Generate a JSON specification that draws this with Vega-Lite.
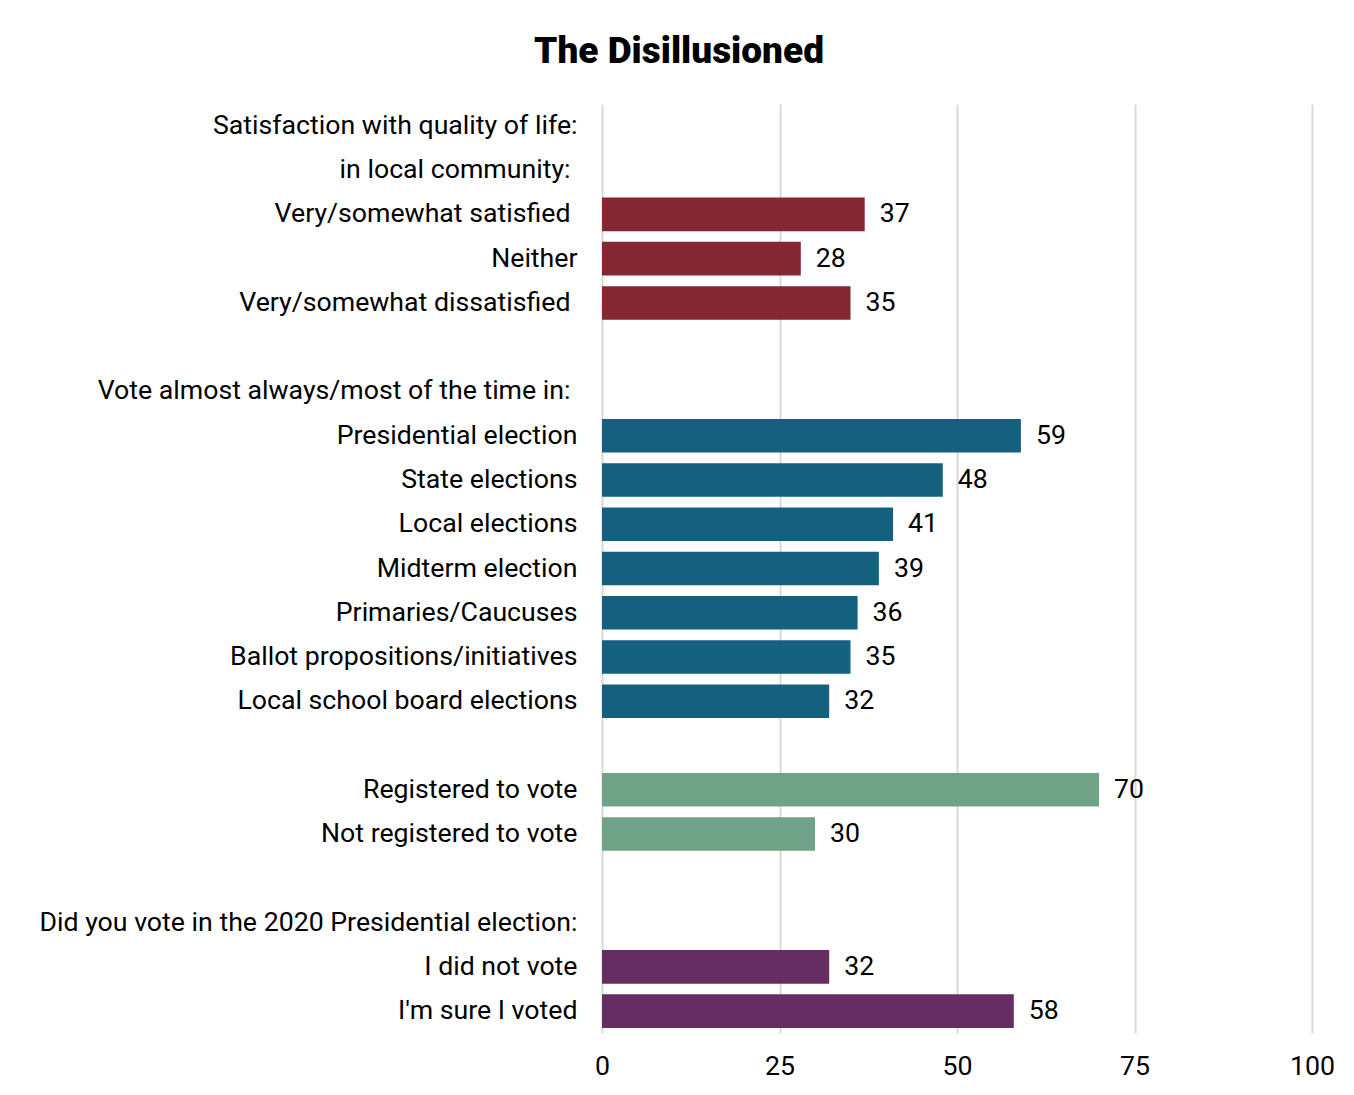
{
  "$schema": "https://vega.github.io/schema/vega-lite/v6.json",
  "width": 710,
  "height": 929,
  "autosize": {"type": "none"},
  "padding": {"left": 602, "top": 104, "right": 42, "bottom": 62},
  "background": "white",
  "title": {
    "text": "The Disillusioned",
    "font": "Roboto",
    "fontSize": 37,
    "fontWeight": 900,
    "color": "#000000",
    "anchor": "middle",
    "frame": "group",
    "dx": -278,
    "offset": 33
  },
  "data": {
    "values": [
      {"label": "Satisfaction with quality of life:", "value": null, "group": "life"},
      {"label": "in local community:", "value": null, "group": "life"},
      {"label": "Very/somewhat satisfied", "value": 37, "group": "life"},
      {"label": "Neither", "value": 28, "group": "life"},
      {"label": "Very/somewhat dissatisfied", "value": 35, "group": "life"},
      {"label": " ", "value": null, "group": "none"},
      {"label": "Vote almost always/most of the time in:", "value": null, "group": "vote"},
      {"label": "Presidential election", "value": 59, "group": "vote"},
      {"label": "State elections", "value": 48, "group": "vote"},
      {"label": "Local elections", "value": 41, "group": "vote"},
      {"label": "Midterm election", "value": 39, "group": "vote"},
      {"label": "Primaries/Caucuses", "value": 36, "group": "vote"},
      {"label": "Ballot propositions/initiatives", "value": 35, "group": "vote"},
      {"label": "Local school board elections", "value": 32, "group": "vote"},
      {"label": "  ", "value": null, "group": "none"},
      {"label": "Registered to vote", "value": 70, "group": "reg"},
      {"label": "Not registered to vote", "value": 30, "group": "reg"},
      {"label": "   ", "value": null, "group": "none"},
      {"label": "Did you vote in the 2020 Presidential election:", "value": null, "group": "voted"},
      {"label": "I did not vote", "value": 32, "group": "voted"},
      {"label": "I'm sure I voted", "value": 58, "group": "voted"}
    ]
  },
  "encoding": {
    "y": {
      "field": "label",
      "type": "nominal",
      "sort": null,
      "scale": {
        "domain": [
          "Satisfaction with quality of life:",
          "in local community:",
          "Very/somewhat satisfied",
          "Neither",
          "Very/somewhat dissatisfied",
          " ",
          "Vote almost always/most of the time in:",
          "Presidential election",
          "State elections",
          "Local elections",
          "Midterm election",
          "Primaries/Caucuses",
          "Ballot propositions/initiatives",
          "Local school board elections",
          "  ",
          "Registered to vote",
          "Not registered to vote",
          "   ",
          "Did you vote in the 2020 Presidential election:",
          "I did not vote",
          "I'm sure I voted"
        ],
        "paddingInner": 0.24,
        "paddingOuter": 0.115
      },
      "axis": {
        "title": null,
        "ticks": false,
        "domain": false,
        "labelPadding": {
          "condition": {
            "test": "indexof(['in local community:', 'Very/somewhat satisfied', 'Very/somewhat dissatisfied', 'Vote almost always/most of the time in:'], datum.value) >= 0",
            "value": 32
          },
          "value": 25
        },
        "labelFont": "Roboto",
        "labelFontSize": 26.7,
        "labelColor": "#000000",
        "labelLimit": 0
      }
    }
  },
  "layer": [
    {
      "transform": [{"filter": "datum.value != null"}],
      "mark": {"type": "bar"},
      "encoding": {
        "x": {
          "field": "value",
          "type": "quantitative",
          "scale": {"domain": [0, 100], "nice": false},
          "axis": {
            "title": null,
            "values": [0, 25, 50, 75, 100],
            "ticks": false,
            "domain": false,
            "grid": true,
            "gridColor": "#d9d9d9",
            "gridWidth": 2,
            "labelFlush": false,
            "labelPadding": 20,
            "labelFont": "Roboto",
            "labelFontSize": 26.7,
            "labelColor": "#000000"
          }
        },
        "color": {
          "field": "group",
          "type": "nominal",
          "scale": {
            "domain": ["life", "vote", "reg", "voted"],
            "range": ["#852633", "#16607f", "#6fa287", "#652e62"]
          },
          "legend": null
        }
      }
    },
    {
      "transform": [{"filter": "datum.value != null"}],
      "mark": {
        "type": "text",
        "align": "left",
        "baseline": "middle",
        "dx": 15,
        "font": "Roboto",
        "fontSize": 26.7,
        "color": "#000000"
      },
      "encoding": {
        "x": {"field": "value", "type": "quantitative"},
        "text": {"field": "value", "type": "quantitative"}
      }
    }
  ],
  "config": {"view": {"stroke": null}}
}
